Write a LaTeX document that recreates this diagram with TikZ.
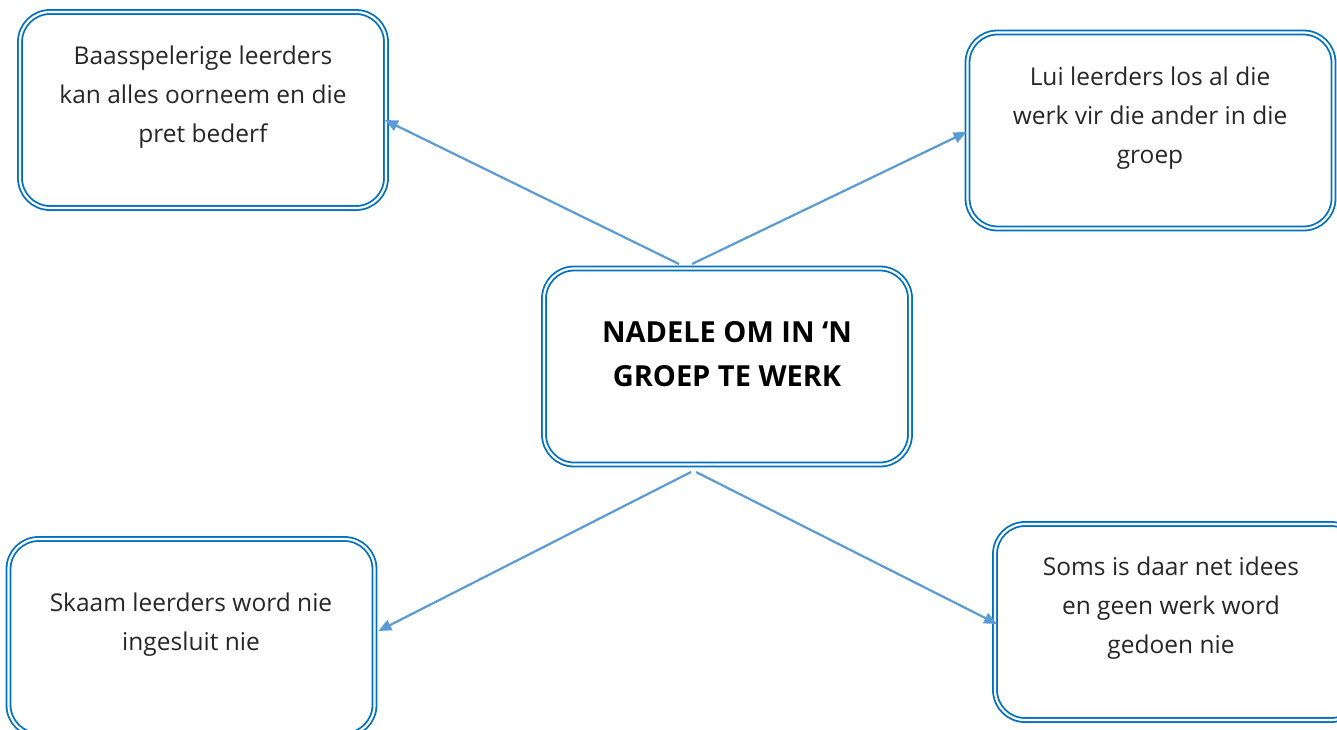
\documentclass[tikz,border=0pt]{standalone}
\usepackage{fontspec}
\setmainfont{Open Sans}
\usetikzlibrary{arrows.meta}
\definecolor{boxblue}{HTML}{0070C0}
\definecolor{arrowblue}{HTML}{5B9BD5}
\definecolor{txt}{HTML}{262626}
\begin{document}
\begin{tikzpicture}[x=1pt,y=-1pt,
  box/.style={draw=boxblue,double=white,line width=1.8pt,double distance=2.2pt,
    rounded corners=30pt,minimum width=366pt,minimum height=196pt,inner sep=0pt},
  lbl/.style={align=center,text=txt,font=\fontsize{24.5}{39}\selectfont},
  conn/.style={draw=arrowblue,line width=2.2pt,-{Triangle[length=13pt,width=11pt]}}]
\useasboundingbox (0,0) rectangle (1337,729);
\begin{scope}
\clip (0,0) rectangle (1337,729);
\node[box] (tl) at (203,110) {};
\node[box] (tr) at (1150.5,130.5) {};
\node[box] (c) at (727,366.5) {};
\node[box] (bl) at (191.5,637) {};
\node[box] (br) at (1178,622) {};
\end{scope}
\node[lbl] (tlt) at (203,97) {Baasspelerige leerders\\kan alles oorneem en die\\pret bederf};
\node[lbl] (trt) at (1150,118) {Lui leerders los al die\\werk vir die ander in die\\groep};
\node[align=center,font=\fontsize{29}{44}\selectfont\bfseries] (ct) at (727,354) {NADELE OM IN ‘N\\GROEP TE WERK};
\node[lbl] (blt) at (191,624.5) {Skaam leerders word nie\\ingesluit nie};
\node[lbl] (brt) at (1171,608.5) {Soms is daar net idees\\en geen werk word\\gedoen nie};
\coordinate (s1) at (679,264);
\coordinate (s2) at (692,264);
\coordinate (s3) at (691,472);
\coordinate (s4) at (696,472);
\draw[conn] (s1) -- ([yshift=-10pt,xshift=-2pt]tl.east);
\draw[conn] (s2) -- ([yshift=-1.5pt]tr.west);
\draw[conn] (s3) -- ([yshift=6pt,xshift=3pt]bl.east);
\draw[conn] (s4) -- ([yshift=-2pt,xshift=3pt]br.west);
\end{tikzpicture}
\end{document}
